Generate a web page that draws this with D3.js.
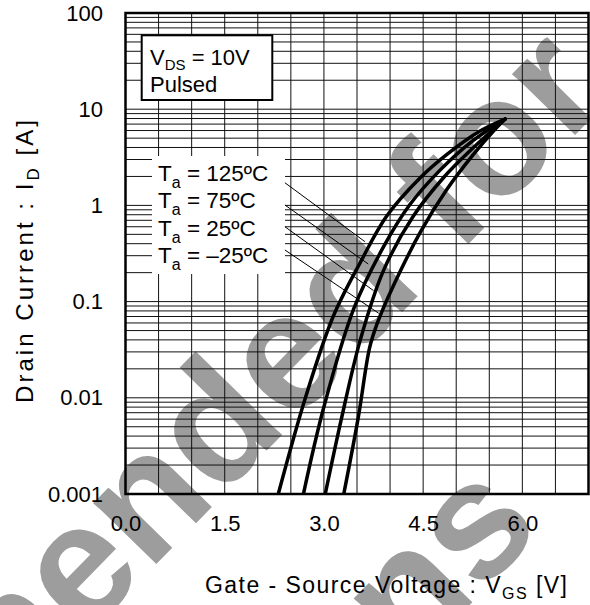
<!DOCTYPE html>
<html><head><meta charset="utf-8">
<script src="https://cdn.jsdelivr.net/npm/d3@7"></script>
<style>body{margin:0;background:#fff}svg{display:block}text{font-family:"Liberation Sans",Arial,sans-serif;fill:#000}</style>
</head><body><svg id="c" width="590" height="605"></svg>
<script>
// ---- data ----
const xTicks=[0,1.5,3,4.5,6];
const xTickLabels=["0.0","1.5","3.0","4.5","6.0"];
const yTicks=[100,10,1,0.1,0.01,0.001];
const yTickLabels=["100","10","1","0.1","0.01","0.001"];
const tempLabels=["125","75","25","\u201325"];

const vgs125=[2.31,2.72,3.14,3.55,3.95,4.46,4.86,5.36,5.74];
const id125 =[0.001,0.01,0.07,0.255,0.776,1.95,3.39,5.93,7.9];
const vgs75 =[2.69,2.99,3.45,3.90,4.30,4.76,5.21,5.74];
const id75  =[0.001,0.0076,0.084,0.37,1.02,2.34,4.47,7.9];
const vgs25 =[3.02,3.27,3.55,3.90,4.35,4.81,5.21,5.74];
const id25  =[0.001,0.0063,0.040,0.21,0.77,1.95,3.7,7.9];
const vgsm25=[3.30,3.52,3.69,3.80,4.05,4.46,4.86,5.26,5.56,5.74];
const idm25 =[0.001,0.0063,0.033,0.058,0.146,0.53,1.47,3.39,5.9,7.9];

const leaderStartV=[2.41,2.41,2.41,2.41];
const leaderStartI=[1.72,1.01,0.60,0.344];
const leaderEndV=[3.62,3.67,3.75,3.83];
const leaderEndI=[0.42,0.246,0.130,0.0755];

const series=[[vgs125,id125],[vgs75,id75],[vgs25,id25],[vgsm25,idm25]];

// ---- chart ----
const svg=d3.select("#c");
const x=d3.scaleLinear().domain([0,7]).range([125.5,588.5]);
const y=d3.scaleLog().domain([0.001,100]).range([494,13]);

// watermark (behind everything)
const wm=svg.append("g").attr("transform","translate(612,97) rotate(-45.7)")
  .style("font-family","'Liberation Sans',Arial,sans-serif").style("font-weight","bold").style("font-size","166px");
wm.append("text").attr("text-anchor","end").style("fill","#9d9d9d").text("Not Recommended for");
wm.append("text").attr("text-anchor","middle").attr("x",-873).attr("y",253).style("fill","#9d9d9d").text("New Designs");

// grid
const g=svg.append("g");
const vLines=d3.range(1,14).map(i=>i*0.5);
g.selectAll("line.v").data(vLines).join("line").attr("class","v")
  .attr("x1",d=>x(d)).attr("x2",d=>x(d)).attr("y1",y(100)).attr("y2",y(0.001))
  .attr("stroke","#111").attr("stroke-width",1);
const hVals=[];
[0.001,0.01,0.1,1,10].forEach(d=>{for(let k=1;k<=9;k++){const v=k*d;if(v>0.0011)hVals.push(v);}});
g.selectAll("line.h").data(hVals).join("line").attr("class","h")
  .attr("x1",x(0)).attr("x2",x(7)).attr("y1",d=>y(d)).attr("y2",d=>y(d))
  .attr("stroke","#111").attr("stroke-width",1);

// frame
svg.append("rect").attr("x",x(0)).attr("y",y(100)).attr("width",x(7)-x(0)).attr("height",y(0.001)-y(100))
  .attr("fill","none").attr("stroke","#000").attr("stroke-width",2.5);

// clip
svg.append("clipPath").attr("id","clip").append("rect")
  .attr("x",x(0)).attr("y",y(100)).attr("width",x(7)-x(0)).attr("height",y(0.001)-y(100));

// VDS box
svg.append("rect").attr("x",141.7).attr("y",35.3).attr("width",130.6).attr("height",64.7)
  .attr("fill","#fff").attr("stroke","#000").attr("stroke-width",2);
const t1=svg.append("text").attr("x",150).attr("y",65).style("font-size","22px");
t1.append("tspan").text("V");
t1.append("tspan").attr("dy",5).style("font-size","15px").text("DS");
t1.append("tspan").attr("dy",-5).text(" = 10V");
svg.append("text").attr("x",150).attr("y",91.7).style("font-size","22px").text("Pulsed");

// temperature label box
svg.append("rect").attr("x",152).attr("y",156).attr("width",133).attr("height",118).attr("fill","#fff");
tempLabels.forEach((t,i)=>{
  const tx=svg.append("text").attr("x",158).attr("y",180.7+27.5*i).style("font-size","22.5px");
  tx.append("tspan").text("T");
  tx.append("tspan").attr("dy",7).style("font-size","16px").text("a");
  tx.append("tspan").attr("dy",-7).text(" = "+t+"\u00BAC");
});

// leader lines
svg.selectAll("line.ld").data(d3.range(4)).join("line").attr("class","ld")
  .attr("x1",i=>x(leaderStartV[i])).attr("y1",i=>y(leaderStartI[i]))
  .attr("x2",i=>x(leaderEndV[i])).attr("y2",i=>y(leaderEndI[i]))
  .attr("stroke","#000").attr("stroke-width",1);

// curves
const line=d3.line().curve(d3.curveCatmullRom.alpha(0.5));
svg.append("g").attr("clip-path","url(#clip)").selectAll("path").data(series).join("path")
  .attr("d",s=>line(s[0].map((v,i)=>[x(v),y(s[1][i])])))
  .attr("fill","none").attr("stroke","#000").attr("stroke-width",3.5).attr("stroke-linecap","round");

// axes
const ya=d3.axisLeft(y).tickValues(yTicks).tickFormat((d,i)=>yTickLabels[i]).tickSize(0).tickPadding(22.5);
const yg=svg.append("g").attr("transform",`translate(${x(0)},0)`).call(ya);
yg.select(".domain").remove();
yg.selectAll("text").style("font-size","22px").style("font-family","'Liberation Sans',Arial,sans-serif");
const xa=d3.axisBottom(x).tickValues(xTicks).tickFormat((d,i)=>xTickLabels[i]).tickSize(0).tickPadding(21);
const xg=svg.append("g").attr("transform",`translate(0,${y(0.001)})`).call(xa);
xg.select(".domain").remove();
xg.selectAll("text").style("font-size","22px").style("font-family","'Liberation Sans',Arial,sans-serif");

// axis titles
function fitWidth(sel,target){
  const w=sel.node().getComputedTextLength();
  const n=sel.text().length;
  sel.attr("letter-spacing",((target-w)/(n-1)).toFixed(3));
}
const xt=svg.append("text").attr("x",205).attr("y",593).style("font-size","23px");
xt.append("tspan").text("Gate - Source Voltage : V");
xt.append("tspan").attr("dy",6).style("font-size","16px").text("GS");
xt.append("tspan").attr("dy",-6).text(" [V]");
fitWidth(xt,362);

const yt=svg.append("text").attr("transform","translate(33,403) rotate(-90)").style("font-size","24px");
yt.append("tspan").text("Drain Current : I");
yt.append("tspan").attr("dy",6).style("font-size","17px").text("D");
yt.append("tspan").attr("dy",-6).text(" [A]");
fitWidth(yt,283);
</script></body></html>
